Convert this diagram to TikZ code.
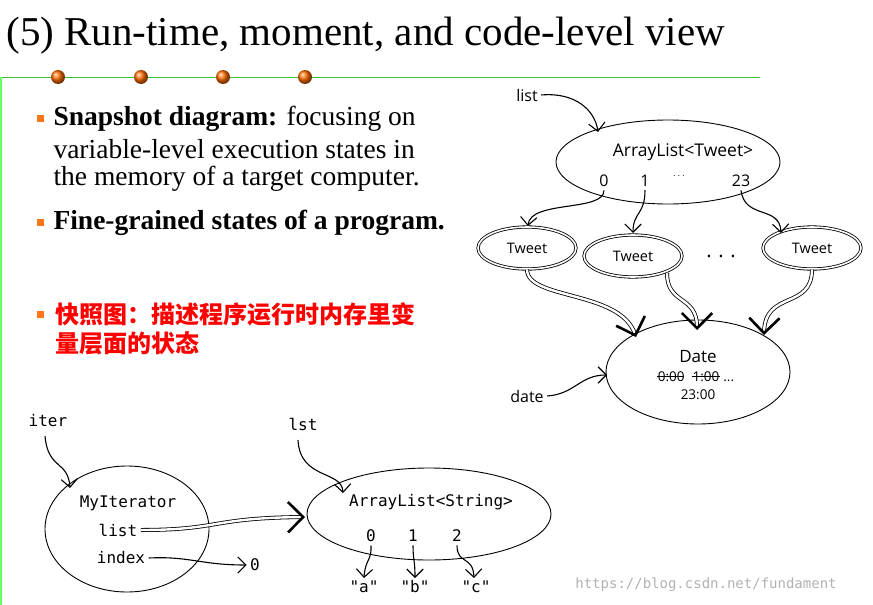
\documentclass[tikz,border=0pt]{standalone}
\usepackage{fontspec}
\setmainfont{Liberation Serif}
\newfontfamily\diag{Open Sans}
\newfontfamily\mono{DejaVu Sans Mono}
\newfontfamily\cjk{Noto Sans CJK SC}
\usetikzlibrary{arrows.meta,shapes.geometric}
\begin{document}
\begin{tikzpicture}[x=1pt,y=-1pt,
  tip/.style={-{Straight Barb[scale=2.2]}},
  ptr/.style={draw=black,line width=1.1pt,tip},
  dptr/.style={draw=black,line width=0.8pt,double=white,double distance=2.4pt,-{Straight Barb[scale=1.6,line width=2.6pt]}},
  obj/.style={ellipse,draw,line width=0.9pt,fill=white,inner sep=0pt},
  dobj/.style={ellipse,draw,line width=0.8pt,double,double distance=1.6pt,fill=white,inner sep=0pt,minimum width=98pt,minimum height=42pt},
  dt/.style={font=\diag\fontsize{16}{18}\selectfont},
  mt/.style={font=\mono\fontsize{16}{18}\selectfont},
  body/.style={anchor=west,font=\fontsize{27.5}{29}\selectfont},
  bul/.style={fill=orange!80!red!90,minimum size=7pt,inner sep=0pt}]
\useasboundingbox (0,0) rectangle (873,605);
\fill[white] (0,0) rectangle (873,605);
% title bar
\node[anchor=west,font=\fontsize{41}{44}\selectfont] (title) at (3,36) {(5) Run-time, moment, and code-level view};
\draw[green!70!black!80,line width=0.8pt] (0,77.5) -- (760,77.5);
\draw[green!60,line width=1.4pt] (1,77) -- (1,605);
\foreach \i/\x in {1/58,2/141,3/223,4/305}
  \node[circle,inner sep=0pt,minimum size=14pt,ball color=orange!85!red,shading=ball] (dot\i) at (\x,77) {};
% bullets
\node[bul] (b1) at (40,118) {};
\node[body] (t1) at (50,119) {\textbf{Snapshot diagram:} focusing on};
\node[body] (t2) at (50,149) {variable-level execution states in};
\node[body] (t3) at (50,179) {the memory of a target computer.};
\node[bul] (b2) at (40,222) {};
\node[body] (t4) at (50,223) {\textbf{Fine-grained states of a program.}};
\node[bul] (b3) at (40,314) {};
\node[body,text=red,font=\cjk\bfseries\fontsize{24}{26}\selectfont] (t5) at (52,314) {快照图：描述程序运行时内存里变};
\node[body,text=red,font=\cjk\bfseries\fontsize{24}{26}\selectfont] (t6) at (52,343) {量层面的状态};
% top diagram
\node[obj,minimum width=224pt,minimum height=84pt] (al) at (668,162) {};
\node[dt,font=\diag\fontsize{17.5}{19}\selectfont] (alt) at (683,152) {ArrayList<Tweet>};
\node[dt] (i0) at (604,181) {0};
\node[dt] (i1) at (645,181) {1};
\node[font=\fontsize{10}{10}\selectfont] (idots) at (679,176) {\textbf{$\cdots$}};
\node[dt] (i23) at (741,181) {23};
\node[dt] (lst1) at (527,95) {list};
\draw[ptr] (lst1.east) .. controls (575,92) and (595,110) .. (598,132);
\node[dobj] (tw1) at (527,248) {};
\node[dt,font=\diag\fontsize{14.5}{16}\selectfont] at (tw1) {Tweet};
\node[dobj] (tw2) at (633,256) {};
\node[dt,font=\diag\fontsize{14.5}{16}\selectfont] at (tw2) {Tweet};
\node[dobj] (tw3) at (812,248) {};
\node[dt,font=\diag\fontsize{14.5}{16}\selectfont] at (tw3) {Tweet};
\node[font=\diag\fontsize{20}{20}\selectfont] (tdots) at (721,256) {.\,\,.\,\,.};
\draw[ptr] (i0.south) .. controls (604,212) and (530,200) .. (528,226);
\draw[ptr] (i1.south) .. controls (645,215) and (633,212) .. (633,233);
\draw[ptr] (i23.south) .. controls (745,220) and (780,205) .. (781,233);
\node[obj,minimum width=184pt,minimum height=104pt] (date) at (698,372) {};
\node[dt,font=\diag\fontsize{17}{19}\selectfont] (dtt) at (698,357) {Date};
\node[dt,font=\diag\fontsize{13.5}{15}\selectfont] (dt1) at (696,377) {0:00\hspace{8pt}1:00\hspace{4pt}...};
\draw[line width=0.7pt] ([xshift=-39pt,yshift=1pt]dt1.center) -- ([xshift=-12pt,yshift=1pt]dt1.center);
\draw[line width=0.7pt] ([xshift=-4pt,yshift=1pt]dt1.center) -- ([xshift=24pt,yshift=1pt]dt1.center);
\node[dt,font=\diag\fontsize{13.5}{15}\selectfont] (dt2) at (698,395) {23:00};
\node[dt] (dlab) at (527,396) {date};
\draw[ptr] (dlab.east) .. controls (575,394) and (580,375) .. (607,375);
\draw[dptr] (tw1.south) .. controls (527,300) and (620,290) .. (636,337);
\draw[dptr] (667,273) .. controls (667,305) and (697,295) .. (697,330);
\draw[dptr] (tw3.south) .. controls (812,310) and (765,290) .. (764,335);
% bottom diagram
\node[obj,minimum width=164pt,minimum height=126pt] (it) at (127,529) {};
\node[mt] (itt) at (128,503) {MyIterator};
\node[mt] (itl) at (118,530) {list};
\node[mt] (iti) at (121,558) {index};
\node[mt] (iter) at (48,421) {iter};
\draw[ptr] (45,436) .. controls (48,470) and (68,460) .. (70,488);
\node[obj,minimum width=244pt,minimum height=92pt] (als) at (429,514) {};
\node[mt] (alst) at (431,502) {ArrayList<String>};
\node[mt] (s0) at (371,536) {0};
\node[mt] (s1) at (413,536) {1};
\node[mt] (s2) at (457,536) {2};
\node[mt] (lstl) at (303,424) {lst};
\draw[ptr] (298,440) .. controls (300,480) and (342,470) .. (343,493);
\draw[dptr] (itl.east) .. controls (220,530) and (210,518) .. (305,517);
\node[mt] (zero) at (255,565) {0};
\draw[ptr] (iti.east) .. controls (190,556) and (200,565) .. (zero.west);
\node[mt] (sa) at (364,587) {"a"};
\node[mt] (sb) at (415,587) {"b"};
\node[mt] (sc) at (476,587) {"c"};
\draw[ptr] (s0.south) .. controls (372,560) and (365,560) .. (364,578);
\draw[ptr] (s1.south) .. controls (413,560) and (415,560) .. (415,578);
\draw[ptr] (s2.south) .. controls (457,565) and (473,555) .. (474,578);
\node[mt,text=black!30,font=\mono\fontsize{14}{16}\selectfont] (wm) at (706,585) {https://blog.csdn.net/fundament};
\end{tikzpicture}
\end{document}
